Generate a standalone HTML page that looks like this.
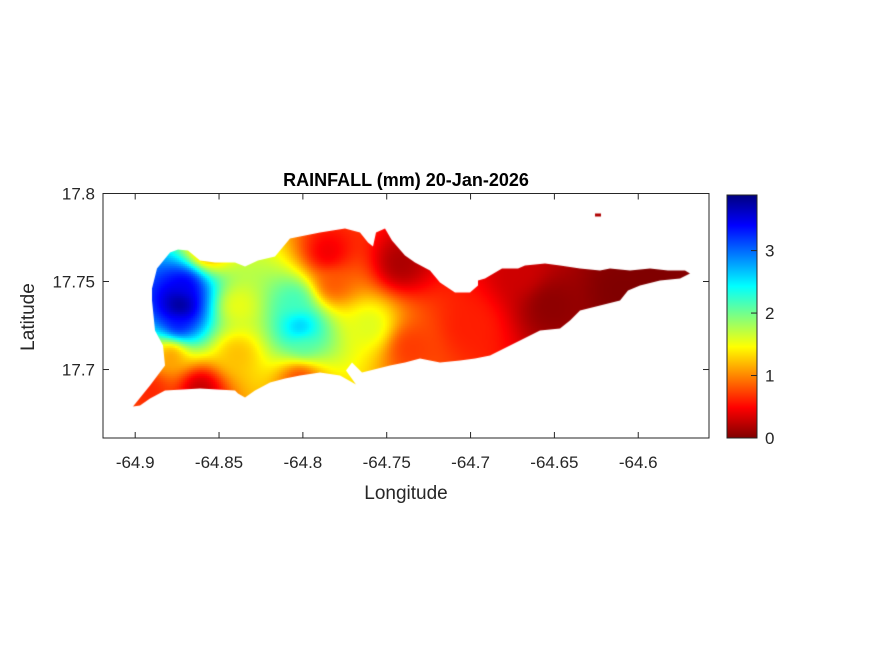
<!DOCTYPE html>
<html><head><meta charset="utf-8">
<style>
html,body{margin:0;padding:0;background:#fff;}
body{width:875px;height:656px;position:relative;overflow:hidden;font-family:"Liberation Sans",sans-serif;}
</style></head>
<body>
<svg id="svg" width="875" height="656" style="position:absolute;left:0;top:0">
  <defs>
    <linearGradient id="jet" x1="0" y1="1" x2="0" y2="0">
      <stop offset="0" stop-color="#800000"/>
      <stop offset="0.125" stop-color="#ff0000"/>
      <stop offset="0.375" stop-color="#ffff00"/>
      <stop offset="0.625" stop-color="#00ffff"/>
      <stop offset="0.875" stop-color="#0000ff"/>
      <stop offset="1" stop-color="#000080"/>
    </linearGradient>
  </defs>
  <foreignObject x="103" y="193.5" width="606" height="244.5">
    <canvas id="cv" width="606" height="245" xmlns="http://www.w3.org/1999/xhtml"></canvas>
  </foreignObject>
  <rect x="103" y="193.5" width="606" height="244.5" fill="none" stroke="#262626" stroke-width="1"/>
  <g id="ticks"></g>
  <rect x="727" y="195" width="30" height="243" fill="url(#jet)" stroke="#262626" stroke-width="1"/>
  <g id="cbticks"></g>
  <text x="406" y="186" text-anchor="middle" font-family="Liberation Sans" font-weight="bold" font-size="18" fill="#000">RAINFALL (mm) 20-Jan-2026</text>
  <text x="406" y="499" text-anchor="middle" font-family="Liberation Sans" font-size="19" fill="#262626">Longitude</text>
  <text transform="translate(34,317) rotate(-90)" text-anchor="middle" font-family="Liberation Sans" font-size="19" fill="#262626">Latitude</text>
</svg>
<script>
// Rainfall station data
const stationLon = [-64.8732,-64.8016,-64.7599,-64.8569,-64.8612,-64.7853,-64.7418,-64.7001,-64.6524,-64.5928,-64.8016,-64.8911,-64.8390,-64.7359,-64.6107,-64.7823,-64.8785,-64.8390,-64.6703,-64.8702,-64.8744,-64.8046,-64.7998];
const stationLat = [17.7366,17.7241,17.7253,17.7673,17.6895,17.7662,17.7605,17.7253,17.7366,17.7514,17.6957,17.6889,17.7366,17.7128,17.7452,17.7486,17.7094,17.7094,17.7560,17.7480,17.7253,17.7395,17.7139];
const stationVal = [3.95,2.75,1.6,1.0,0.2,0.4,0.15,0.6,0.05,0.0,0.7,0.6,1.5,0.7,0.0,0.8,1.0,1.2,0.3,3.5,3.4,2.2,2.1];
const xTicks = [-64.9,-64.85,-64.8,-64.75,-64.7,-64.65,-64.6];
const xTickLabels = ["-64.9","-64.85","-64.8","-64.75","-64.7","-64.65","-64.6"];
const yTicks = [17.7,17.75,17.8];
const yTickLabels = ["17.7","17.75","17.8"];
const cTicks = [0,1,2,3];
const cTickLabels = ["0","1","2","3"];
const cMax = 3.89;

const AX={x:103,y:193.5,w:606,h:244.5,lon0:-64.9192,lon1:-64.5578,lat0:17.6611,lat1:17.8};
function xs(lon){return AX.x+(lon-AX.lon0)/(AX.lon1-AX.lon0)*AX.w;}
function ys(lat){return AX.y+(AX.lat1-lat)/(AX.lat1-AX.lat0)*AX.h;}
function cs(v){return 438-v/cMax*243;}

// Island outline (pixel coords of the coastline)
const coast=[[133,406],[150,385],[165,365],[163,345],[155,330],[152,300],[152,288],[157,268],[170,252],[178,249],[188,250],[200,260],[215,262],[235,262],[245,266],[258,260],[275,256],[290,238],[320,232],[345,228],[360,232],[368,242],[373,246],[376,232],[385,228],[392,240],[405,255],[415,262],[430,270],[440,282],[455,292],[470,292],[478,285],[478,280],[485,278],[502,268],[518,268],[525,265],[545,263],[560,265],[580,268],[600,270],[610,268],[630,270],[650,268],[668,270],[685,270],[690,273],[680,278],[660,280],[640,285],[628,290],[620,300],[600,305],[580,310],[570,320],[560,328],[540,330],[520,340],[500,350],[490,355],[475,358],[460,360],[440,362],[420,358],[405,362],[390,365],[370,370],[362,372],[352,362],[346,370],[356,384],[340,375],[320,372],[300,375],[285,378],[270,382],[255,390],[245,397],[238,393],[235,390],[200,388],[165,390],[150,398],[140,405]];

function jet(t){
  t=Math.max(0,Math.min(1,t));
  const st=[[0,128,0,0],[0.125,255,0,0],[0.375,255,255,0],[0.625,0,255,255],[0.875,0,0,255],[1,0,0,128]];
  for(let i=0;i<st.length-1;i++){
    if(t<=st[i+1][0]){const a=st[i],b=st[i+1],f=(t-a[0])/(b[0]-a[0]);
      return [a[1]+f*(b[1]-a[1]),a[2]+f*(b[2]-a[2]),a[3]+f*(b[3]-a[3])];}
  }
  return [0,0,128];
}

const cv=document.getElementById('cv');
const ctx=cv.getContext('2d');
ctx.save();
ctx.beginPath();
coast.forEach((p,i)=>{const px=p[0]-AX.x,py=p[1]-AX.y;i?ctx.lineTo(px,py):ctx.moveTo(px,py);});
ctx.closePath();
ctx.rect(595-AX.x,213-AX.y,6,3);
ctx.clip();
const sx=stationLon.map(xs), sy=stationLat.map(ys);
const B=2;
for(let py=0;py<AX.h;py+=B){
  for(let px=0;px<AX.w;px+=B){
    const X=px+AX.x+B/2,Y=py+AX.y+B/2;
    let num=0,den=0;
    for(let k=0;k<stationVal.length;k++){
      const d2=(X-sx[k])**2+(Y-sy[k])**2;
      const w=1/Math.pow(d2+150,1.5);num+=w*stationVal[k];den+=w;
    }
    const v=num/den;
    const c=jet(v/cMax);
    ctx.fillStyle='rgb('+(c[0]|0)+','+(c[1]|0)+','+(c[2]|0)+')';
    ctx.fillRect(px,py,B,B);
  }
}
ctx.restore();

const NS='http://www.w3.org/2000/svg';
const tg=document.getElementById('ticks');
function mk(tag,attrs,parent,txt){const e=document.createElementNS(NS,tag);for(const k in attrs)e.setAttribute(k,attrs[k]);if(txt!==undefined)e.textContent=txt;parent.appendChild(e);return e;}
xTicks.forEach((v,i)=>{
  const x=xs(v);
  const l=mk('line',{x1:x,x2:x,y1:438,y2:432,stroke:'#262626'},tg);
  
  
  const l2=mk('line',{x1:x,x2:x,y1:193.5,y2:199.5,stroke:'#262626'},tg);
  
  
  const t=mk('text',{x:x,y:468,'text-anchor':'middle','font-family':'Liberation Sans','font-size':'17',fill:'#262626'},tg,xTickLabels[i]);
  
  
});
yTicks.forEach((v,i)=>{
  const y=ys(v);
  const l=mk('line',{x1:103,x2:109,y1:y,y2:y,stroke:'#262626'},tg);
  
  
  const l2=mk('line',{x1:703,x2:709,y1:y,y2:y,stroke:'#262626'},tg);
  
  
  const t=mk('text',{x:95,y:y+6,'text-anchor':'end','font-family':'Liberation Sans','font-size':'17',fill:'#262626'},tg,yTickLabels[i]);
  
  
});
const cg=document.getElementById('cbticks');
cTicks.forEach((v,i)=>{
  const y=cs(v);
  const l=mk('line',{x1:751,x2:757,y1:y,y2:y,stroke:'#262626'},cg);
  
  
  const t=mk('text',{x:765,y:y+6,'font-family':'Liberation Sans','font-size':'17',fill:'#262626'},cg,cTickLabels[i]);
  
  
});
</script>
</body></html>
